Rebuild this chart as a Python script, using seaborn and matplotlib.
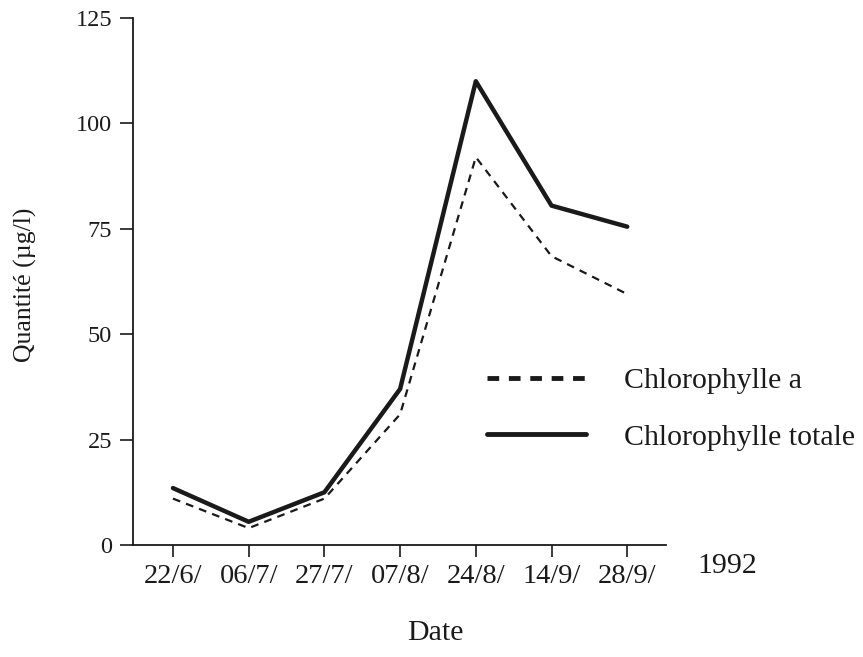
import matplotlib
matplotlib.use("Agg")
import matplotlib.pyplot as plt
from matplotlib.lines import Line2D
import seaborn as sns
import pandas as pd

dates = ["22/6/", "06/7/", "27/7/", "07/8/", "24/8/", "14/9/", "28/9/"]
chl_a = [11.0, 4.0, 11.0, 31.0, 92.0, 68.5, 59.5]
chl_totale = [13.5, 5.5, 12.5, 37.0, 110.0, 80.5, 75.5]
yticks = [0, 25, 50, 75, 100, 125]

sns.set_theme(style="white")
plt.rcParams['font.family'] = ['Liberation Serif', 'DejaVu Serif']

df = pd.DataFrame({"idx": range(len(dates)), "date": dates,
                   "a": chl_a, "tot": chl_totale})

ink = "#1a1a1a"
fig = plt.figure(figsize=(8.63, 6.57), dpi=100)
ax = fig.add_axes([0.154, 0.1705, 0.618, 0.8021])

sns.lineplot(data=df, x="idx", y="a", ax=ax, color=ink, lw=1.6,
             linestyle=(0, (3.5, 2.8)))
sns.lineplot(data=df, x="idx", y="tot", ax=ax, color=ink, lw=3.2)

ax.set_xlim(-0.529, 6.515)
ax.set_ylim(0, 125)
ax.set_xticks(range(len(dates)))
ax.set_xticklabels(dates)
ax.set_yticks(yticks)
ax.set_yticklabels([str(v) for v in yticks])
ax.tick_params(axis="x", bottom=True, direction="out", length=8.8, width=1.2,
               color=ink, labelsize=20.5, labelcolor=ink, pad=5)
ax.tick_params(axis="y", left=True, direction="out", length=9.4, width=1.2,
               color=ink, labelsize=17.5, labelcolor=ink, pad=5.5)
for s in ["top", "right"]:
    ax.spines[s].set_visible(False)
for s in ["left", "bottom"]:
    ax.spines[s].set_color(ink)
    ax.spines[s].set_linewidth(1.3)

ax.set_xlabel("Date", fontsize=21.5, color=ink)
ax.xaxis.set_label_coords(0.567, -0.142)
ax.set_ylabel("Quantité (µg/l)", fontsize=18.5, color=ink)
ax.yaxis.set_label_coords(-0.18, 0.493)

fig.text(727 / 863, 1 - 566 / 657, "1992", fontsize=21.5, color=ink,
         ha="center", va="center")

handles = [Line2D([], [], color=ink, lw=3.5, linestyle=(0, (2.4, 2.0))),
           Line2D([], [], color=ink, lw=3.5)]
fig.legend(handles, ["Chlorophylle a", "Chlorophylle totale"],
           loc="center left", bbox_to_anchor=(487 / 863, 1 - 409 / 657),
           frameon=False, fontsize=21.5, handlelength=3.3, handletextpad=1.3,
           labelspacing=1.0, borderpad=0, borderaxespad=0,
           labelcolor=ink)

fig.savefig("out.png", dpi=100)
